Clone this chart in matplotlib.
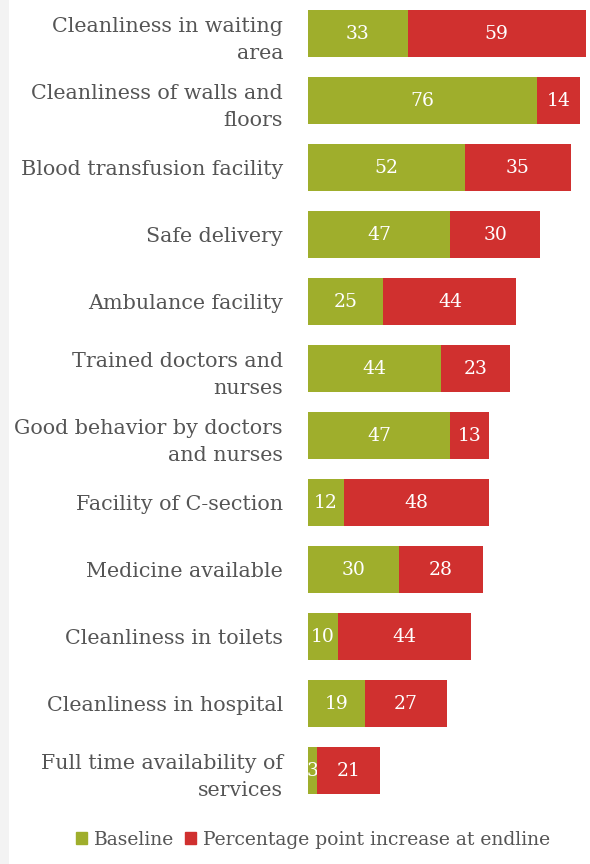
import matplotlib
matplotlib.use("Agg")
import matplotlib.pyplot as plt
from matplotlib.patches import Rectangle

categories = [
    "Cleanliness in waiting\narea",
    "Cleanliness of walls and\nfloors",
    "Blood transfusion facility",
    "Safe delivery",
    "Ambulance facility",
    "Trained doctors and\nnurses",
    "Good behavior by doctors\nand nurses",
    "Facility of C-section",
    "Medicine available",
    "Cleanliness in toilets",
    "Cleanliness in hospital",
    "Full time availability of\nservices",
]
baseline = [33, 76, 52, 47, 25, 44, 47, 12, 30, 10, 19, 3]
increase = [59, 14, 35, 30, 44, 23, 13, 48, 28, 44, 27, 21]
series_names = ["Baseline", "Percentage point increase at endline"]

OLIVE = "#9fae2c"
RED = "#d0302f"
TEXT = "#555555"
FONT = "DejaVu Serif"

W, H = 590, 864
fig = plt.figure(figsize=(W / 100, H / 100), dpi=100)
fig.patch.set_facecolor("white")

# faint frame strip on the left edge
fig.add_artist(Rectangle((0, 0), 9 / W, 1, transform=fig.transFigure,
                         facecolor="#f3f3f3", edgecolor="none"))

ax = fig.add_axes([308 / W, 60 / H, 282 / W, 804 / H])
ypos = list(range(len(categories)))
b1 = ax.barh(ypos, baseline, height=0.70, color=OLIVE, zorder=2)
b2 = ax.barh(ypos, increase, left=baseline, height=0.70, color=RED, zorder=3)

ax.set_xlim(0, 93.4)
ax.set_ylim(len(categories) - 0.5, -0.5)
ax.set_yticks(ypos)
ax.set_yticklabels(categories, fontsize=14.9, family=FONT, color=TEXT,
                   linespacing=1.55)
ax.tick_params(axis="y", length=0, pad=18)
ax.set_xticks([])
for s in ax.spines.values():
    s.set_visible(False)

for rect, v in zip(b1, baseline):
    t = ax.text(rect.get_x() + rect.get_width() / 2, rect.get_y() + rect.get_height() / 2,
                str(v), ha="center", va="center", color="white", fontsize=13.5,
                family=FONT, zorder=2.5)
    t.set_clip_path(rect)
for rect, v in zip(b2, increase):
    ax.text(rect.get_x() + rect.get_width() / 2, rect.get_y() + rect.get_height() / 2,
            str(v), ha="center", va="center", color="white", fontsize=13.5,
            family=FONT, zorder=4)

handles = [Rectangle((0, 0), 1, 1, color=OLIVE), Rectangle((0, 0), 1, 1, color=RED)]
fig.legend(handles, series_names, loc="center", bbox_to_anchor=(313 / W, 1 - 840 / H),
           ncol=2, frameon=False, handlelength=0.6, handleheight=0.6,
           handletextpad=0.35, columnspacing=0.6,
           prop={"family": FONT, "size": 13.5}, labelcolor=TEXT)

fig.savefig("out.png", dpi=100)
